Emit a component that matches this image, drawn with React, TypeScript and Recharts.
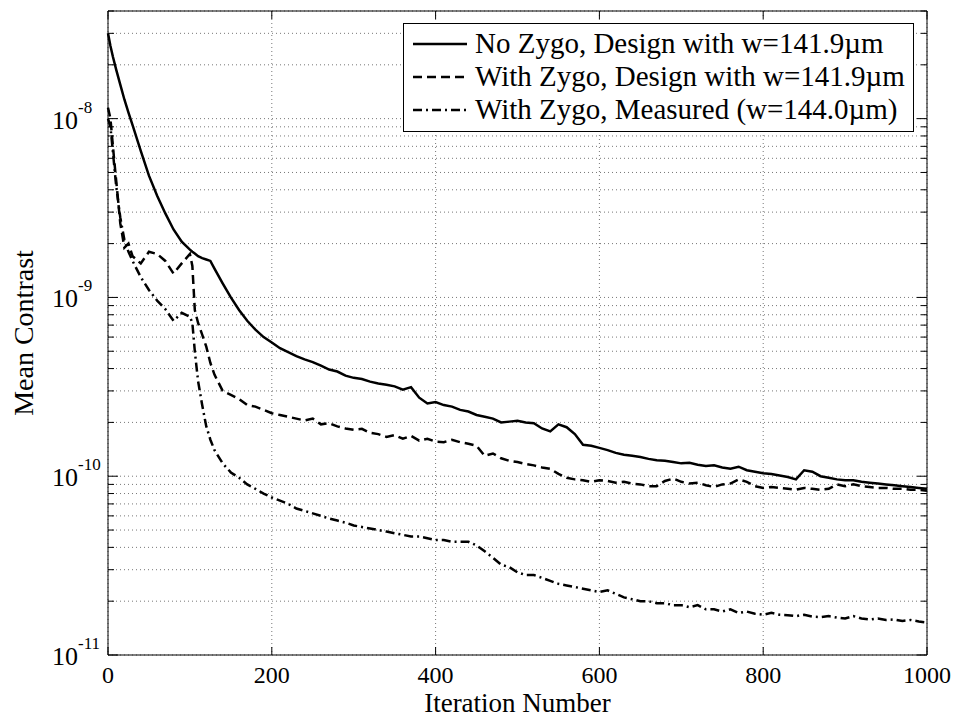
import React from 'react'
import { CartesianGrid, Legend, Line, LineChart, XAxis, YAxis } from 'recharts'

// iteration numbers shared by all three curves
const iterations = [
  0, 3, 6, 10, 15, 20, 25, 30, 40, 50,
  60, 70, 80, 90, 100, 103, 106, 110, 115, 120,
  125, 130, 140, 150, 160, 170, 180, 190, 200, 210,
  220, 230, 240, 250, 260, 270, 280, 290, 300, 310,
  320, 330, 340, 350, 360, 370, 380, 390, 400, 410,
  420, 430, 440, 450, 460, 470, 480, 490, 500, 510,
  520, 530, 540, 550, 560, 570, 580, 590, 600, 610,
  620, 630, 640, 650, 660, 670, 680, 690, 700, 710,
  720, 730, 740, 750, 760, 770, 780, 790, 800, 810,
  820, 830, 840, 850, 860, 870, 880, 890, 900, 910,
  920, 930, 940, 950, 960, 970, 980, 990, 1000,
]

// mean contrast, in units of 1e-10
const noZygoDesign = [
  300, 255, 222, 188, 155, 128, 108, 92, 66, 48,
  37, 29.5, 24, 20.5, 18.5, 18, 17.6, 17, 16.6, 16.3,
  16.0, 14.5, 12, 10, 8.5, 7.4, 6.6, 6.0, 5.6, 5.2,
  4.95, 4.7, 4.5, 4.35, 4.15, 3.95, 3.85, 3.65, 3.55, 3.5,
  3.38, 3.3, 3.25, 3.18, 3.05, 3.15, 2.75, 2.55, 2.6, 2.5,
  2.45, 2.35, 2.3, 2.2, 2.15, 2.1, 2.0, 2.02, 2.04, 2.0,
  1.98, 1.85, 1.78, 1.95, 1.88, 1.72, 1.5, 1.48, 1.44, 1.4,
  1.35, 1.32, 1.3, 1.28, 1.25, 1.23, 1.22, 1.2, 1.18, 1.19,
  1.16, 1.14, 1.15, 1.12, 1.1, 1.13, 1.08, 1.06, 1.04, 1.03,
  1.01, 0.99, 0.96, 1.08, 1.06, 1.0, 0.98, 0.96, 0.95, 0.95,
  0.93, 0.92, 0.91, 0.9, 0.89, 0.88, 0.87, 0.86, 0.85,
]

const withZygoDesign = [
  115, 100, 70, 45, 26, 19, 20, 17, 15.5, 18,
  17.5, 16, 13.6, 15.5, 17.5, 15, 8.5, 7.2, 6.2, 5.3,
  4.3, 3.7, 3.0, 2.85, 2.7, 2.5, 2.45, 2.35, 2.25, 2.2,
  2.15, 2.1, 2.05, 2.1, 1.95, 1.98, 1.9, 1.85, 1.82, 1.84,
  1.75, 1.72, 1.66, 1.7, 1.62, 1.68, 1.58, 1.62, 1.56, 1.55,
  1.6, 1.55, 1.52, 1.48, 1.3, 1.34, 1.26, 1.22, 1.2, 1.17,
  1.15, 1.12, 1.1, 1.03, 0.98, 0.96, 0.95, 0.93, 0.95, 0.94,
  0.92, 0.93, 0.91, 0.9, 0.88, 0.88, 0.94, 0.97, 0.93, 0.91,
  0.92, 0.89, 0.87, 0.9, 0.91, 0.96, 0.93, 0.88, 0.86, 0.87,
  0.86, 0.85, 0.84, 0.86, 0.85, 0.84, 0.85, 0.9, 0.88, 0.9,
  0.88, 0.87, 0.86, 0.86, 0.85, 0.85, 0.84, 0.84, 0.83,
]

const withZygoMeasured = [
  100, 90, 65, 42, 28, 21, 18, 16, 13, 11,
  9.6, 8.6, 7.4, 8.2, 7.8, 7.2, 5.0, 3.4, 2.5, 1.9,
  1.6, 1.4, 1.18, 1.05, 0.98, 0.9, 0.85, 0.8, 0.76, 0.73,
  0.7, 0.66, 0.64, 0.62, 0.6, 0.58, 0.565, 0.55, 0.53, 0.52,
  0.51, 0.5, 0.49, 0.48, 0.47, 0.46, 0.46, 0.45, 0.44, 0.44,
  0.43, 0.43, 0.43, 0.41, 0.38, 0.35, 0.32, 0.31, 0.29, 0.28,
  0.28, 0.27, 0.26, 0.25, 0.245, 0.24, 0.235, 0.23, 0.225, 0.23,
  0.22, 0.21, 0.205, 0.2, 0.2, 0.195, 0.195, 0.19, 0.19, 0.185,
  0.19, 0.18, 0.18, 0.175, 0.18, 0.172, 0.175, 0.17, 0.168, 0.172,
  0.168, 0.167, 0.165, 0.168, 0.164, 0.163, 0.165, 0.162, 0.16, 0.165,
  0.16, 0.158, 0.16, 0.157, 0.158, 0.155, 0.157, 0.154, 0.152,
]

const xTicks = [0, 200, 400, 600, 800, 1000]
const yTicks = [
  1e-11, 2e-11, 3e-11, 4e-11, 5e-11, 6e-11, 7e-11, 8e-11, 9e-11,
  1e-10, 2e-10, 3e-10, 4e-10, 5e-10, 6e-10, 7e-10, 8e-10, 9e-10,
  1e-9, 2e-9, 3e-9, 4e-9, 5e-9, 6e-9, 7e-9, 8e-9, 9e-9,
  1e-8, 2e-8, 3e-8, 4e-8,
]

const seriesNames = [
  'No Zygo, Design with w=141.9\u00b5m',
  'With Zygo, Design with w=141.9\u00b5m',
  'With Zygo, Measured (w=144.0\u00b5m)',
]
const dashes = ['', '9 5', '9 4 2 4']

const data = iterations.map((it, i) => ({
  it,
  a: noZygoDesign[i] * 1e-10,
  b: withZygoDesign[i] * 1e-10,
  c: withZygoMeasured[i] * 1e-10,
}))

const FONT = '"Liberation Serif", "Times New Roman", serif'

const isDecade = (v: number) => Math.abs(Math.log10(v) - Math.round(Math.log10(v))) < 1e-6

const LeftTick = (props: any) => {
  const { x, y, payload } = props
  const major = isDecade(payload.value)
  const exp = Math.round(Math.log10(payload.value))
  return (
    <g>
      <line x1={x} y1={y} x2={x + (major ? 10 : 6)} y2={y} stroke='#000' />
      {major && (
        <>
          <text x={x - 30} y={y + 10} textAnchor='end' fontSize={26} fontFamily={FONT} fill='#000'>10</text>
          <text x={x - 30} y={y - 6} textAnchor='start' fontSize={17} fontFamily={FONT} fill='#000'>{exp}</text>
        </>
      )}
    </g>
  )
}

const RightTick = (props: any) => {
  const { x, y, payload } = props
  const major = isDecade(payload.value)
  return <line x1={x} y1={y} x2={x - (major ? 10 : 6)} y2={y} stroke='#000' />
}

const BottomTick = (props: any) => {
  const { x, y, payload } = props
  return (
    <g>
      <line x1={x} y1={y} x2={x} y2={y - 8} stroke='#000' />
      <text x={x} y={y + 28} textAnchor='middle' fontSize={24} fontFamily={FONT} fill='#000'>{payload.value}</text>
    </g>
  )
}

const TopTick = (props: any) => {
  const { x, y } = props
  return <line x1={x} y1={y} x2={x} y2={y + 8} stroke='#000' />
}

const renderLegend = () => (
  <div style={{ border: '1px solid #000', background: '#fff', padding: '3px 8px 5px 9px', fontFamily: FONT, fontSize: 29, lineHeight: '33px', color: '#000', whiteSpace: 'nowrap' }}>
    {seriesNames.map((name, i) => (
      <div key={name} style={{ display: 'flex', alignItems: 'center' }}>
        <svg width={54} height={10} style={{ marginRight: 8 }}>
          <line x1={0} y1={5} x2={54} y2={5} stroke='#000' strokeWidth={2.5} strokeDasharray={dashes[i] || undefined} />
        </svg>
        <span>{name}</span>
      </div>
    ))}
  </div>
)

export default function App() {
  return (
    <div style={{ position: 'absolute', left: 0, top: 0, background: '#fff' }}>
      <LineChart width={954} height={717} data={data} margin={{ top: 0, right: 0, bottom: 0, left: 0 }}>
        <CartesianGrid stroke='#777' strokeDasharray='1 3' horizontalValues={yTicks} verticalValues={xTicks} />
        <XAxis dataKey='it' type='number' domain={[0, 1000]} ticks={xTicks} height={62}
          tickSize={0} tickMargin={0} tickLine={false} axisLine={{ stroke: '#000' }} tick={<BottomTick />}
          label={{ content: (p: any) => (
            <text x={p.viewBox.x + p.viewBox.width / 2} y={p.viewBox.y + 57} textAnchor='middle' fontSize={27} fontFamily={FONT} fill='#000'>Iteration Number</text>
          ) }} />
        <XAxis xAxisId='top' orientation='top' dataKey='it' type='number' domain={[0, 1000]} ticks={xTicks} height={11}
          tickSize={0} tickMargin={0} tickLine={false} axisLine={{ stroke: '#000' }} tick={<TopTick />} />
        <YAxis scale='log' type='number' domain={[1e-11, 4e-8]} ticks={yTicks} width={108} allowDataOverflow
          tickSize={0} tickMargin={0} tickLine={false} axisLine={{ stroke: '#000' }} tick={<LeftTick />} interval={0}
          label={{ content: (p: any) => (
            <text x={33} y={p.viewBox.y + p.viewBox.height / 2} transform={`rotate(-90, 33, ${p.viewBox.y + p.viewBox.height / 2})`} textAnchor='middle' fontSize={28} fontFamily={FONT} fill='#000'>Mean Contrast</text>
          ) }} />
        <YAxis yAxisId='right' orientation='right' scale='log' type='number' domain={[1e-11, 4e-8]} ticks={yTicks} width={27} allowDataOverflow
          tickSize={0} tickMargin={0} tickLine={false} axisLine={{ stroke: '#000' }} tick={<RightTick />} interval={0} />
        <Legend layout='vertical' align='center' verticalAlign='middle' content={renderLegend} wrapperStyle={{ left: 403, top: 23, width: 'auto', height: 'auto' }} />
        <Line dataKey='a' stroke='#000' strokeWidth={2.5} dot={false} isAnimationActive={false} />
        <Line dataKey='b' stroke='#000' strokeWidth={2.5} strokeDasharray={dashes[1]} dot={false} isAnimationActive={false} />
        <Line dataKey='c' stroke='#000' strokeWidth={2.5} strokeDasharray={dashes[2]} dot={false} isAnimationActive={false} />
      </LineChart>
    </div>
  )
}
